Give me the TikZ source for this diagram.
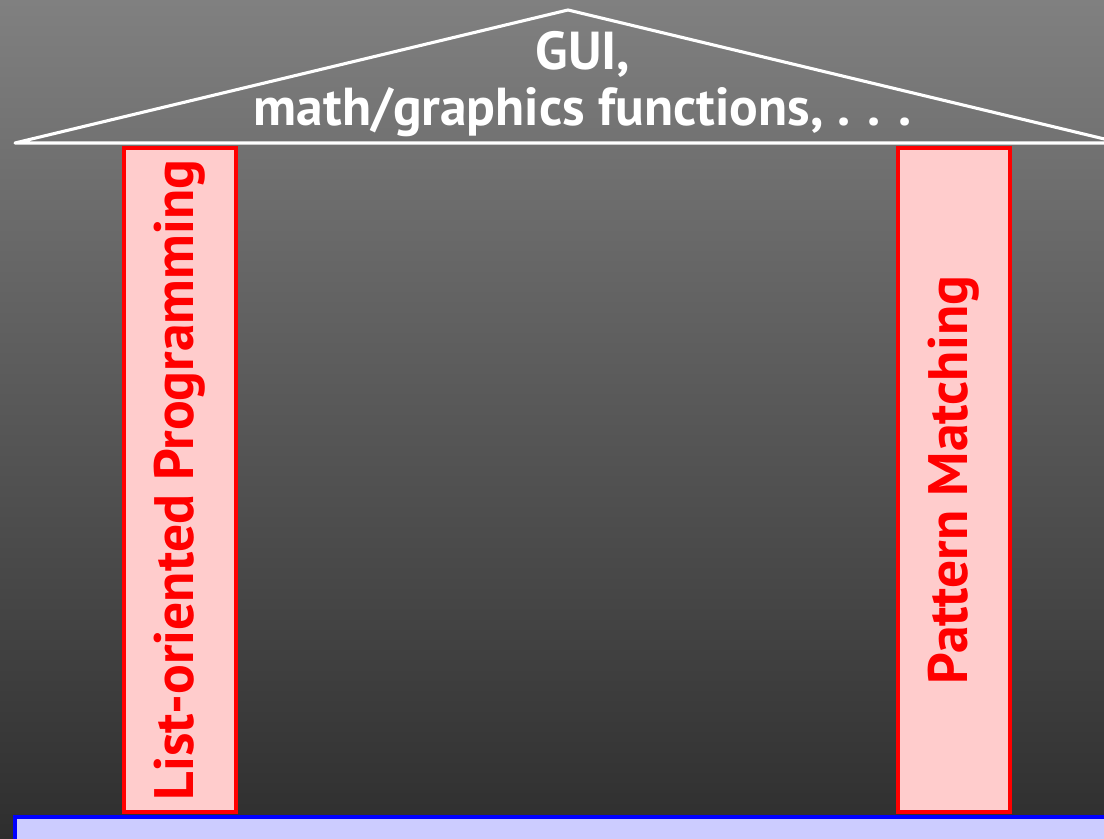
\documentclass[tikz,border=0pt]{standalone}
\usepackage{fontspec}
\setmainfont{PT Sans}
\usepackage{tikz}
\usetikzlibrary{positioning}
\definecolor{bgtop}{RGB}{128, 128, 128}
\definecolor{bgbottom}{RGB}{46, 46, 46}
\definecolor{pillarpink}{RGB}{255, 204, 204}
\definecolor{pillarred}{RGB}{255, 0, 0}
\definecolor{baseblue}{RGB}{204, 204, 255}
\definecolor{baseedge}{RGB}{0, 0, 255}

\begin{document}
\begin{tikzpicture}[
    x=0.025cm, y=0.025cm,
    pillar/.style={draw=pillarred, line width=2.2pt, fill=pillarpink, rotate=90,
                   minimum width=664*0.025cm, minimum height=112*0.025cm,
                   inner sep=0pt, text=pillarred,
                   font=\fontsize{39.5}{44}\selectfont\bfseries},
    roofline/.style={draw=white, line width=2.2pt, line join=round},
    rooftext/.style={text=white, align=center, inner sep=0pt,
                     font=\fontsize{38}{40}\selectfont\bfseries}
]
    % background
    \shade[top color=bgtop, bottom color=bgbottom] (0,0) rectangle (1104,839);
    \useasboundingbox (0,0) rectangle (1104,839);
    \clip (0,0) rectangle (1104,839);

    % roof
    \coordinate (eaveL) at (15,696);
    \coordinate (apex) at (568,829);
    \coordinate (eaveR) at (1121,696);
    \draw[roofline] (eaveL) -- (apex) -- (eaveR) -- cycle;
    \node[rooftext] (roof) at (583,755) {GUI,\\math/graphics functions, .\,\,.\,\,.};

    % pillars
    \node[pillar] (listprog) at (180,359) {List-oriented Programming};
    \node[pillar] (patmatch) at (954,359) {Pattern Matching};

    % foundation
    \draw[draw=baseedge, line width=2.2pt, fill=baseblue] (15,22) rectangle (1120,-10);
\end{tikzpicture}
\end{document}
